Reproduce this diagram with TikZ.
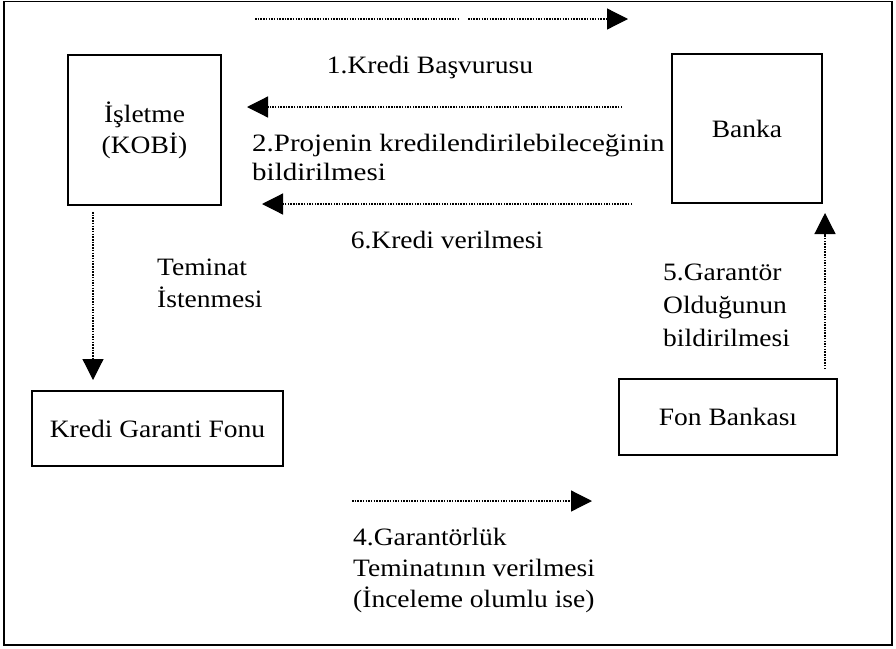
\documentclass[tikz,border=0pt]{standalone}
\usepackage{fontspec}
\setmainfont[FakeStretch=1.1]{Liberation Serif}
\newfontfamily\widefont[FakeStretch=1.16]{Liberation Serif}
\usetikzlibrary{arrows.meta}
\newcommand{\lblfont}{\fontsize{25}{31}\selectfont}
\begin{document}
\begin{tikzpicture}[x=1pt,y=-1pt,
  boxnode/.style={draw,line width=1.2pt,inner sep=0pt,align=center,font=\lblfont},
  flow/.style={line width=1.2pt,dash pattern=on 1.5pt off 1.2pt},
  flowarrow/.style={flow,-{Triangle[length=21pt,width=21pt]}},
  lbl/.style={inner sep=0pt,align=left,anchor=base west},
  clbl/.style={inner sep=0pt,font=\lblfont,anchor=base}
]
\useasboundingbox (0,0) rectangle (896,648);
\draw[line width=1.8pt] (4,1.5) rectangle (892,645);

% boxes
\node[boxnode,minimum width=153pt,minimum height=150pt] (kobi) at (144.5,130) {İşletme\\(KOBİ)};
\node[boxnode,minimum width=150pt,minimum height=149pt] (banka) at (747,128.5) {Banka};
\node[boxnode,minimum width=251pt,minimum height=75pt] (kgf) at (157.5,428.5) {Kredi Garanti Fonu};
\node[boxnode,minimum width=218pt,minimum height=76pt] (fon) at (728,417) {Fon Bankası};

% coordinates
\coordinate (t1) at (255,19);
\coordinate (t2) at (458,19);
\coordinate (t3) at (468,19);
\coordinate (t4) at (628,19);
\coordinate (a2s) at (622,107);
\coordinate (a2e) at (247,107);
\coordinate (a6s) at (632,204);
\coordinate (a6e) at (262,204);
\coordinate (v1s) at (93,212);
\coordinate (v1e) at (93,380);
\coordinate (v5s) at (825,369);
\coordinate (v5e) at (825,213);
\coordinate (b1) at (352,501);
\coordinate (b2) at (592,501);

% arrows
\draw[flow] (t1) -- (t2);
\draw[flowarrow] (t3) -- (t4);
\draw[flowarrow] (a2s) -- (a2e);
\draw[flowarrow] (a6s) -- (a6e);
\draw[flowarrow] (v1s) -- (v1e);
\draw[flowarrow] (v5s) -- (v5e);
\draw[flowarrow] (b1) -- (b2);

% labels (base anchor = baseline of the last line)
\node[clbl] (l1) at (430,73) {1.Kredi Başvurusu};
\node[lbl,font=\widefont\fontsize{25}{29}\selectfont] (l2) at (252,180) {2.Projenin kredilendirilebileceğinin\\bildirilmesi};
\node[clbl] (l6) at (447,248) {6.Kredi verilmesi};
\node[lbl,font=\fontsize{25}{32}\selectfont] (lt) at (157,307) {Teminat\\İstenmesi};
\node[lbl,font=\fontsize{25}{33}\selectfont] (l5) at (663,346) {5.Garantör\\Olduğunun\\bildirilmesi};
\node[lbl,font=\fontsize{25}{31}\selectfont] (l4) at (353,607) {4.Garantörlük\\Teminatının verilmesi\\(İnceleme olumlu ise)};
\end{tikzpicture}
\end{document}
